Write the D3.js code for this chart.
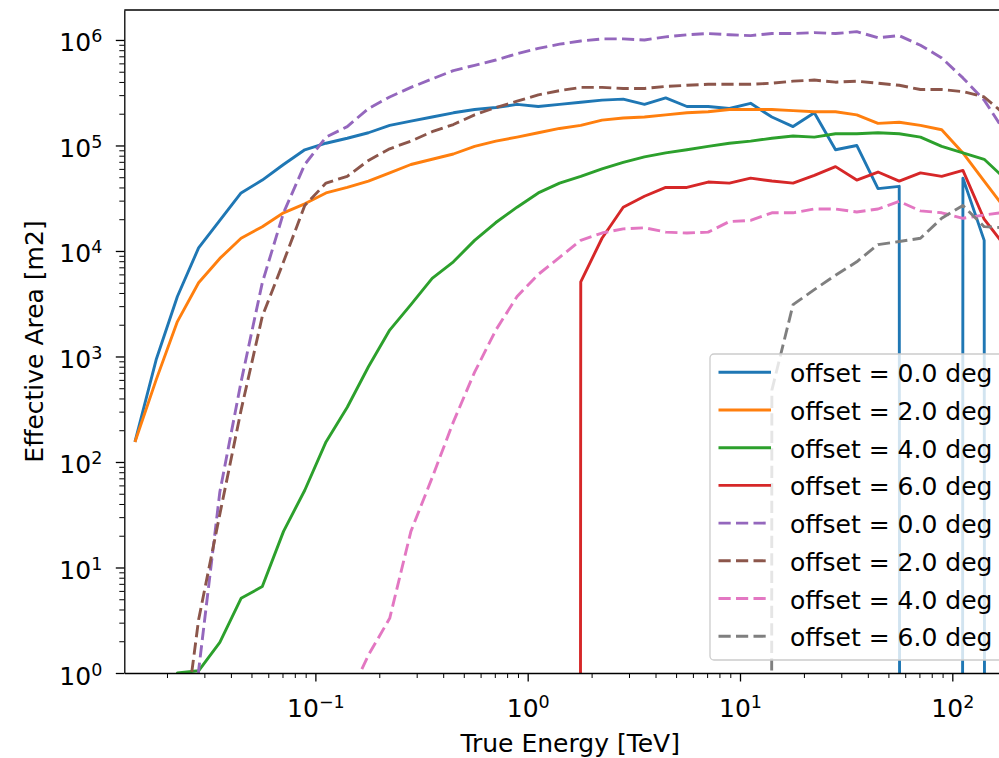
<!DOCTYPE html>
<meta charset="utf-8" />
<script src="https://d3js.org/d3.v7.min.js"></script>

<div id="aeff"></div>

<style>
  html, body {
    margin: 0;
    padding: 0;
    overflow: hidden;
    background: #fff;
  }
  #aeff text {
    font-family: "DejaVu Sans", sans-serif;
    fill: #000;
  }
</style>

<script>
  // true energy bin centres [TeV]
  var energy = [
    0.01413, 0.01778, 0.02239, 0.02818, 0.03548, 0.04467, 0.05623, 0.07079,
    0.08913, 0.1122, 0.1413, 0.1778, 0.2239, 0.2818, 0.3548, 0.4467, 0.5623,
    0.7079, 0.8913, 1.122, 1.413, 1.778, 2.239, 2.818, 3.548, 4.467, 5.623,
    7.079, 8.913, 11.22, 14.13, 17.78, 22.39, 28.18, 35.48, 44.67, 56.23,
    70.79, 89.13, 112.2, 141.3, 177.8
  ];

  // effective area [m2], solid curves
  var solid0 = [
    155, 930, 3700, 10700, 19500, 35500, 47000, 66000, 91000, 105000, 117000,
    132000, 155000, 170000, 186000, 204000, 219000, 229000, 245000, 234000,
    245000, 257000, 269000, 275000, 245000, 282000, 234000, 234000, 224000,
    251000, 186000, 151000, 204000, 91000, 100000, 39000, 41000, 0, 0, 49000,
    12600, 0
  ];
  var solid2 = [
    155, 600, 2140, 5000, 8500, 13200, 17000, 23000, 28000, 35500, 40000,
    46000, 55000, 66000, 74000, 83000, 98000, 110000, 120000, 132000, 145000,
    155000, 174000, 182000, 186000, 195000, 204000, 209000, 219000, 219000,
    219000, 214000, 209000, 209000, 195000, 162000, 166000, 155000, 141000,
    85000, 46000, 25000
  ];
  var solid4 = [
    0, 0, 1, 1.05, 1.95, 5.1, 6.6, 22, 54, 155, 330, 800, 1780, 3100, 5500,
    7900, 12600, 18600, 26000, 35500, 44000, 51000, 60000, 69000, 78000, 85000,
    91000, 98000, 105000, 110000, 117000, 123000, 120000, 129000, 129000,
    132000, 129000, 120000, 98000, 85000, 74000, 48000
  ];
  var solid6 = [
    0, 0, 0, 0, 0, 0, 0, 0, 0, 0, 0, 0, 0, 0, 0, 0, 0, 0, 0, 0, 0, 5100,
    13200, 26000, 33000, 40000, 40000, 45000, 44000, 49000, 46000, 44000,
    52000, 63000, 47000, 56000, 46000, 55000, 51000, 58000, 20000, 11000
  ];

  // effective area [m2], dashed curves
  var dashed0 = [
    0, 0, 0, 1.05, 52, 575, 5000, 23000, 66000, 120000, 151000, 224000, 288000,
    355000, 427000, 513000, 575000, 646000, 741000, 832000, 912000, 977000,
    1023000, 1023000, 1000000, 1070000, 1120000, 1150000, 1120000, 1100000,
    1150000, 1150000, 1175000, 1150000, 1200000, 1050000, 1100000, 890000,
    676000, 437000, 269000, 132000
  ];
  var dashed2 = [
    0, 0, 0.09, 3.2, 32, 310, 2400, 7900, 27000, 44000, 51000, 72000, 93000,
    110000, 135000, 158000, 195000, 229000, 263000, 302000, 331000, 355000,
    355000, 347000, 347000, 363000, 372000, 380000, 380000, 380000, 389000,
    407000, 417000, 398000, 407000, 389000, 372000, 339000, 339000, 324000,
    288000, 195000
  ];
  var dashed4 = [
    0, 0, 0, 0, 0, 0, 0, 0, 0, 0, 0.55, 1.48, 3.3, 22, 71, 240, 710, 1780,
    3700, 6000, 8700, 12600, 14800, 16200, 16600, 15100, 14800, 15100, 19000,
    19500, 23000, 23000, 25000, 25000, 23400, 25000, 29500, 24000, 23000,
    20400, 21900, 23400
  ];
  var dashed6 = [
    0, 0, 0, 0, 0, 0, 0, 0, 0, 0, 0, 0, 0, 0, 0, 0, 0, 0, 0, 0, 0, 0, 0, 0,
    0, 0, 0, 0, 0, 0, 480, 3100, 4300, 5900, 7900, 11500, 12300, 13200, 20400,
    27000, 17000, 16600
  ];

  var labels = [
    "offset = 0.0 deg", "offset = 2.0 deg", "offset = 4.0 deg", "offset = 6.0 deg",
    "offset = 0.0 deg", "offset = 2.0 deg", "offset = 4.0 deg", "offset = 6.0 deg"
  ];
  var colors = [
    "#1f77b4", "#ff7f0e", "#2ca02c", "#d62728",
    "#9467bd", "#8c564b", "#e377c2", "#7f7f7f"
  ];
  var yMajor = [1, 10, 100, 1e3, 1e4, 1e5, 1e6];
  var xMajor = [0.1, 1, 10, 100];

  var series = [solid0, solid2, solid4, solid6, dashed0, dashed2, dashed4, dashed6]
    .map(function(v, i) {
      return { label: labels[i], color: colors[i], dashed: i > 3, values: v };
    });

  var width = 999;
  var height = 758;
  // axes box (right spine falls just outside the window)
  var mLeft = 124.3, mRight = 1016, mTop = 10, mBottom = 673;
  var fs = 25;
  var lw = 2.9;
  var dash = "12.2,5.3";

  var svg = d3
    .select("#aeff")
    .append("svg")
    .attr("width", width)
    .attr("height", height);

  var x = d3
    .scaleLog()
    .domain([Math.pow(10, -1.9), Math.pow(10, 2.3)])
    .range([mLeft, mRight]);
  var y = d3
    .scaleLog()
    .domain([1, Math.pow(10, 6.284)])
    .range([mBottom, mTop]);

  // minor ticks 2..9 inside the domains
  var xMinor = [], yMinor = [];
  for (var e = -2; e <= 2; e++) {
    for (var m = 2; m <= 9; m++) {
      var v = m * Math.pow(10, e);
      if (v > x.domain()[0] && v < x.domain()[1]) xMinor.push(v);
    }
  }
  for (var e = 0; e <= 6; e++) {
    for (var m = 2; m <= 9; m++) {
      var v = m * Math.pow(10, e);
      if (v < y.domain()[1]) yMinor.push(v);
    }
  }

  svg
    .append("clipPath")
    .attr("id", "plotclip")
    .append("rect")
    .attr("x", mLeft)
    .attr("y", mTop)
    .attr("width", mRight - mLeft)
    .attr("height", mBottom - mTop);

  // matplotlib-style clipping of non-positive values on a log axis
  var line = d3
    .line()
    .x(function(d, i) {
      return x(energy[i]);
    })
    .y(function(d) {
      return y(d > 0 ? d : 1e-300);
    });

  svg
    .append("g")
    .attr("clip-path", "url(#plotclip)")
    .selectAll("path")
    .data(series)
    .enter()
    .append("path")
    .attr("d", function(d) {
      return line(d.values);
    })
    .attr("fill", "none")
    .attr("stroke", function(d) {
      return d.color;
    })
    .attr("stroke-width", lw)
    .attr("stroke-linejoin", "round")
    .attr("stroke-dasharray", function(d) {
      return d.dashed ? dash : null;
    });

  function powLabel(sel) {
    sel.each(function(d) {
      var t = d3.select(this).text(null);
      var p = Math.round(Math.log10(d));
      t.append("tspan").text("10");
      t.append("tspan")
        .attr("dy", -9)
        .attr("font-size", 17.5)
        .text(p < 0 ? "\u2212" + -p : p);
    });
  }

  // minor ticks
  svg
    .append("g")
    .attr("transform", "translate(0," + mBottom + ")")
    .call(d3.axisBottom(x).tickValues(xMinor).tickSize(5).tickSizeOuter(0).tickFormat(""))
    .call(function(g) {
      g.select(".domain").remove();
      g.selectAll("line").attr("stroke-width", 1);
    });
  svg
    .append("g")
    .attr("transform", "translate(" + mLeft + ",0)")
    .call(d3.axisLeft(y).tickValues(yMinor).tickSize(5).tickSizeOuter(0).tickFormat(""))
    .call(function(g) {
      g.select(".domain").remove();
      g.selectAll("line").attr("stroke-width", 1);
    });

  // major ticks and spines
  var xAxis = svg
    .append("g")
    .attr("transform", "translate(0," + mBottom + ")")
    .call(d3.axisBottom(x).tickValues(xMajor).tickSize(8.5).tickSizeOuter(0));
  xAxis.attr("font-size", fs);
  xAxis.selectAll("line").attr("stroke-width", 1.3);
  xAxis.select(".domain").attr("stroke-width", 1.3);
  xAxis
    .selectAll(".tick text")
    .attr("y", 44)
    .attr("dy", 0)
    .call(powLabel);

  var yAxis = svg
    .append("g")
    .attr("transform", "translate(" + mLeft + ",0)")
    .call(d3.axisLeft(y).tickValues(yMajor).tickSize(8.5).tickSizeOuter(0));
  yAxis.attr("font-size", fs);
  yAxis.selectAll("line").attr("stroke-width", 1.3);
  yAxis.select(".domain").attr("stroke-width", 1.3);
  yAxis
    .selectAll(".tick text")
    .attr("x", -22)
    .attr("dy", 11)
    .call(powLabel);

  svg
    .append("line")
    .attr("x1", mLeft)
    .attr("x2", mRight)
    .attr("y1", mTop)
    .attr("y2", mTop)
    .attr("stroke", "#000")
    .attr("stroke-width", 1.3);

  svg
    .append("text")
    .attr("x", (mLeft + mRight) / 2)
    .attr("y", 752)
    .attr("text-anchor", "middle")
    .attr("font-size", fs)
    .text("True Energy [TeV]");

  svg
    .append("text")
    .attr("transform", "translate(43," + (mTop + mBottom) / 2 + ") rotate(-90)")
    .attr("text-anchor", "middle")
    .attr("font-size", fs)
    .text("Effective Area [m2]");

  // legend, lower right
  var legend = svg.append("g").attr("transform", "translate(710,354)");
  legend
    .append("rect")
    .attr("width", 300)
    .attr("height", 306)
    .attr("rx", 4)
    .attr("fill", "#fff")
    .attr("fill-opacity", 0.8)
    .attr("stroke", "#cccccc")
    .attr("stroke-width", 1.3);
  var rows = legend
    .selectAll("g.row")
    .data(series)
    .enter()
    .append("g")
    .attr("class", "row")
    .attr("transform", function(d, i) {
      return "translate(0," + (18.3 + i * 37.7) + ")";
    });
  rows
    .append("line")
    .attr("x1", 8.5)
    .attr("x2", 61)
    .attr("stroke", function(d) {
      return d.color;
    })
    .attr("stroke-width", lw)
    .attr("stroke-dasharray", function(d) {
      return d.dashed ? dash : null;
    });
  rows
    .append("text")
    .attr("x", 80)
    .attr("y", 10)
    .attr("font-size", fs)
    .text(function(d) {
      return d.label;
    });
</script>
